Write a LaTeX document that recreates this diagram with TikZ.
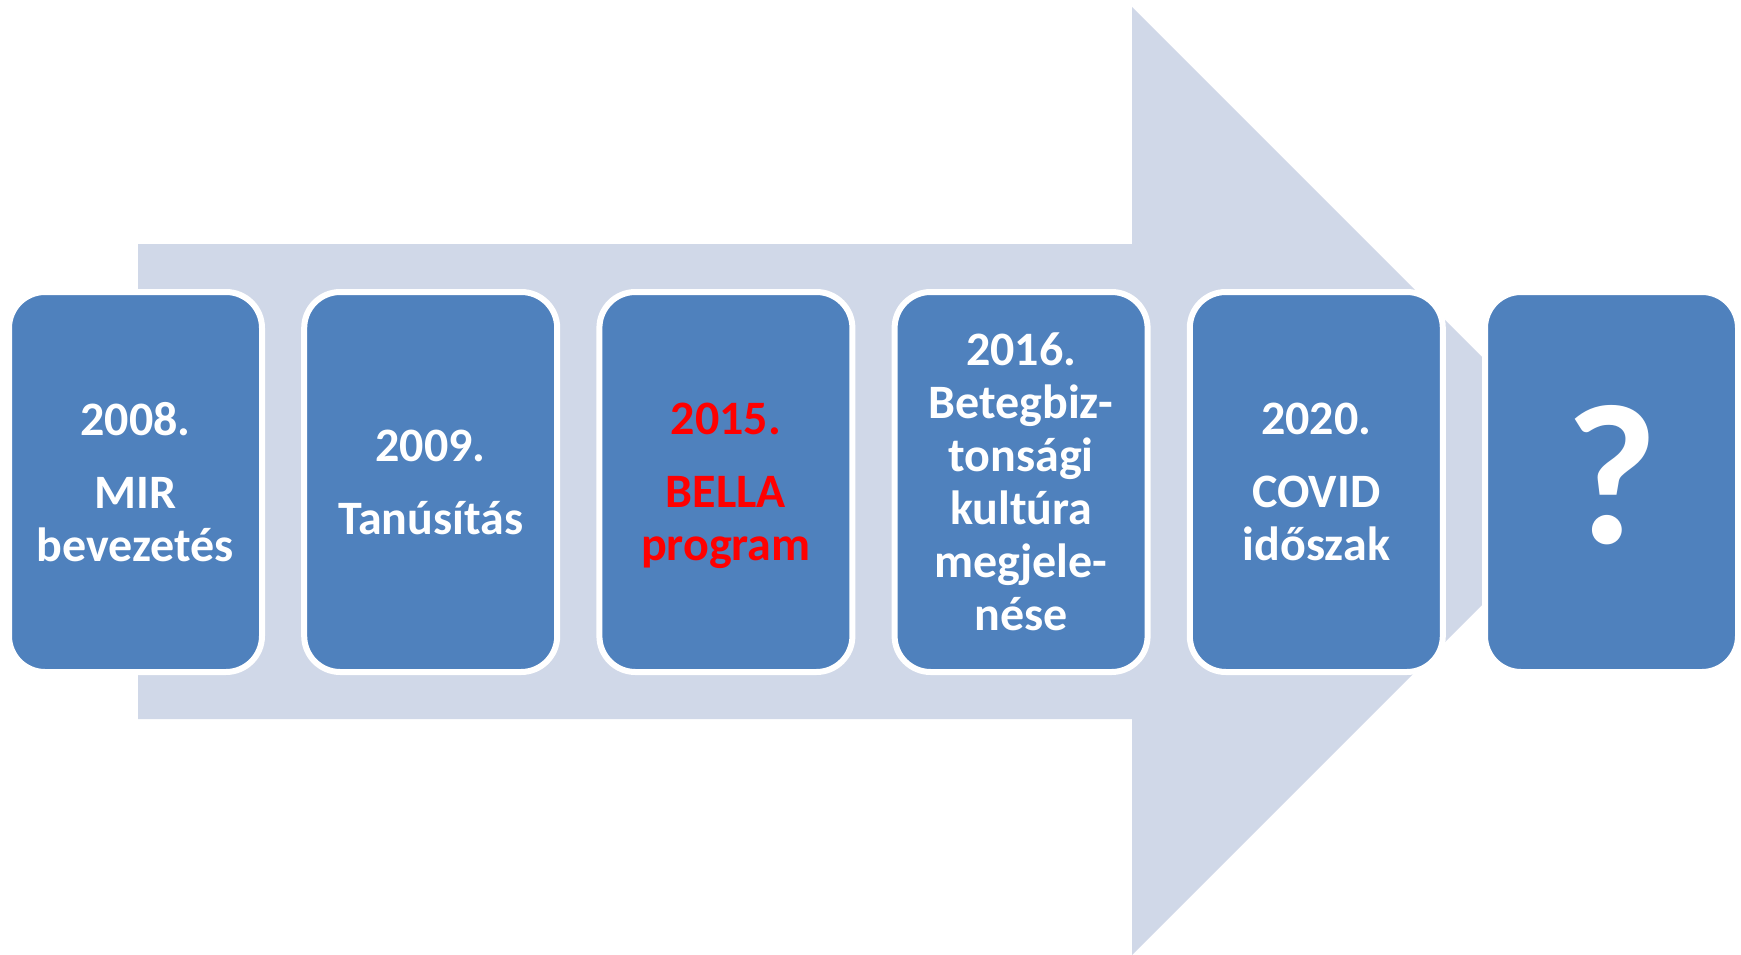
\documentclass[tikz,border=0pt]{standalone}
\usepackage{fontspec}
\setmainfont{Carlito}
\definecolor{boxblue}{HTML}{4F81BD}
\definecolor{arrowfill}{HTML}{D0D8E8}
\definecolor{redtext}{HTML}{FF0000}
\begin{document}
\begin{tikzpicture}[x=1pt,y=-1pt,
  stagebox/.style={fill=boxblue, draw=white, line width=6pt, rounded corners=36pt,
    minimum width=253pt, minimum height=380pt, inner sep=0pt,
    text width=245pt, align=center, text=white,
    font=\fontsize{48}{53}\selectfont\bfseries},
  bigarrow/.style={fill=arrowfill, draw=none}]
\path[use as bounding box] (0,0) rectangle (1741,955);
\fill[bigarrow] (138,244) -- (1132,244) -- (1132,7) -- (1606,481) -- (1132,955) -- (1132,719) -- (138,719) -- cycle;
\node[stagebox] (b1) at (135.5,482) {2008.\\[20pt]MIR\\bevezetés};
\node[stagebox] (b2) at (430.7,482) {2009.\\[20pt]Tanúsítás};
\node[stagebox, text=redtext] (b3) at (725.9,482) {2015.\\[20pt]BELLA\\\smash{program}};
\node[stagebox] (b4) at (1021.1,482) {2016.\\Betegbiz-\\tonsági\\kultúra\\megjele-\\nése};
\node[stagebox] (b5) at (1316.3,482) {2020.\\[20pt]COVID\\időszak};
\node[stagebox, font=\fontsize{200}{200}\selectfont\bfseries] (b6) at (1611.5,482) {\raisebox{16pt}{?}};
\end{tikzpicture}
\end{document}
